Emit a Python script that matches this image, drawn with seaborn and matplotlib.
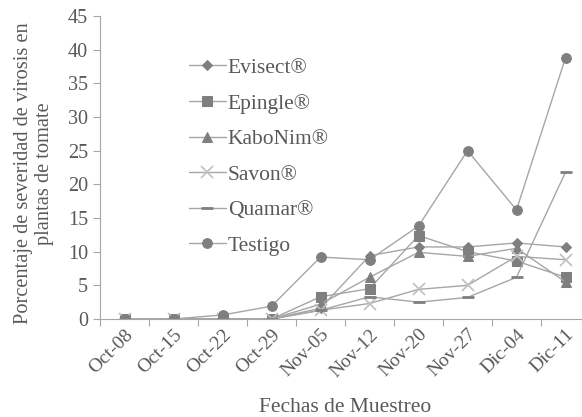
import matplotlib
matplotlib.use('Agg')
import matplotlib.pyplot as plt
import seaborn as sns
import pandas as pd

fechas = ['Oct-08', 'Oct-15', 'Oct-22', 'Oct-29', 'Nov-05',
          'Nov-12', 'Nov-20', 'Nov-27', 'Dic-04', 'Dic-11']

evisect = [0, 0, 0, 0, 1.6, 9.4, 10.7, 10.7, 11.3, 10.7]
epingle = [0, 0, 0, 0, 3.3, 4.5, 12.4, 10.0, 8.6, 6.2]
kabonim = [0, 0, 0, 0, 2.2, 6.2, 9.9, 9.3, 10.5, 5.5]
savon = [0, 0, 0, 0, 1.3, 2.3, 4.4, 5.0, 9.3, 8.8]
quamar = [0, 0, 0, 0, 1.3, 3.3, 2.5, 3.2, 6.2, 21.8]
testigo = [0, 0, 0.6, 1.9, 9.2, 8.8, 13.8, 25.0, 16.2, 38.8]

series = {
    'Evisect®': evisect,
    'Epingle®': epingle,
    'KaboNim®': kabonim,
    'Savon®': savon,
    'Quamar®': quamar,
    'Testigo': testigo,
}

estilos = {
    'Evisect®': dict(marker='D', ms=5, mfc='#7f7f7f', mec='#7f7f7f'),
    'Epingle®': dict(marker='s', ms=7, mfc='#7f7f7f', mec='#7f7f7f'),
    'KaboNim®': dict(marker='^', ms=7, mfc='#7f7f7f', mec='#7f7f7f'),
    'Savon®': dict(marker='x', ms=8, mfc='#bfbfbf', mec='#bfbfbf', mew=1.2),
    'Quamar®': dict(marker='_', ms=9, mfc='#7f7f7f', mec='#7f7f7f', mew=2),
    'Testigo': dict(marker='o', ms=7, mfc='#7f7f7f', mec='#7f7f7f'),
}

sns.set_style('white')
plt.rcParams['font.family'] = ['Liberation Serif', 'DejaVu Serif']

fig = plt.figure(figsize=(5.82, 4.17), dpi=100)
ax = fig.add_axes([100 / 582, 1 - 319 / 417, 490 / 582, 303 / 417])

idx = list(range(len(fechas)))
for nombre, valores in series.items():
    df = pd.DataFrame({'x': idx, 'y': valores})
    sns.lineplot(data=df, x='x', y='y', ax=ax, color='#a6a6a6', lw=1,
                 label=nombre, **estilos[nombre])

ax.set_xlim(-0.5, len(fechas) - 0.5)
ax.set_ylim(0, 45)
ax.set_yticks(range(0, 46, 5))
ax.set_xticks([i - 0.5 for i in idx] + [len(fechas) - 0.5])
ax.set_xticklabels([])
ax.set_xticks(idx, minor=True)
ax.set_xticklabels(fechas, minor=True, rotation=45, ha='right',
                   rotation_mode='anchor', fontsize=14, color='#595959')
ax.tick_params(axis='x', which='minor', length=0, pad=5)
ax.tick_params(axis='x', which='major', length=5, color='#a6a6a6',
               direction='out', bottom=True)
ax.tick_params(axis='y', length=5, color='#a6a6a6', direction='out',
               left=True, labelsize=14.5, labelcolor='#595959')

for s in ['top', 'right']:
    ax.spines[s].set_visible(False)
for s in ['left', 'bottom']:
    ax.spines[s].set_color('#a6a6a6')

ax.set_xlabel('Fechas de Muestreo', fontsize=15.5, color='#595959', labelpad=13)
ax.set_ylabel('Porcentaje de severidad de virosis en\nplantas de tomate',
              fontsize=14.7, color='#595959')
ax.yaxis.set_label_coords(-0.093, 0.48)

leg = ax.legend(loc='upper left', bbox_to_anchor=(0.164, 0.89), frameon=False,
                fontsize=15.5, handlelength=1.7, labelspacing=0.72,
                handletextpad=0.1, borderaxespad=0)
for t in leg.get_texts():
    t.set_color('#595959')

fig.savefig('out.png', dpi=100)
